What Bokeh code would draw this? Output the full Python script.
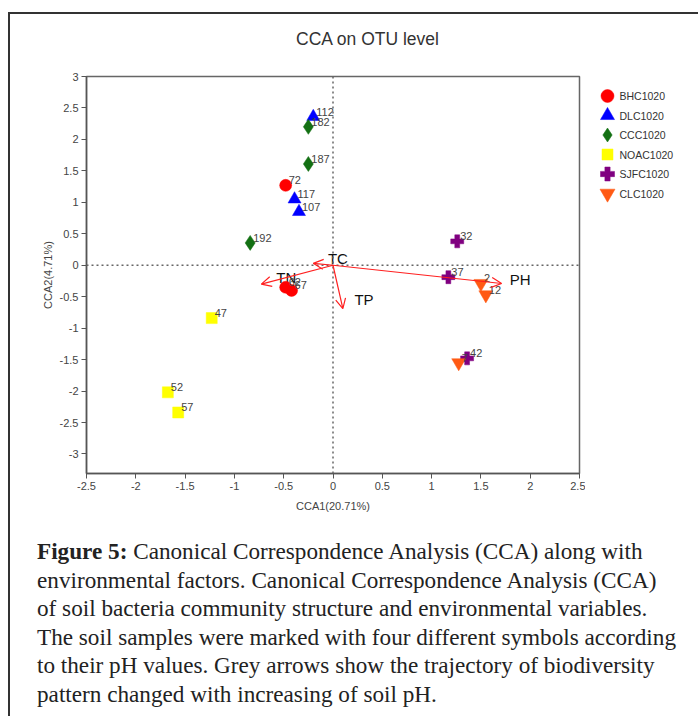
from bokeh.plotting import figure
from bokeh.models import (Range1d, FixedTicker, Arrow, OpenHead, ColumnDataSource,
                          Span, Div)
from bokeh.layouts import column, row
from bokeh.core.properties import value
from bokeh.embed import file_html
from bokeh.resources import INLINE

# ---------------- data ----------------
title_text = "CCA on OTU level"
x_label = "CCA1(20.71%)"
y_label = "CCA2(4.71%)"

x_ticks = [-2.5, -2.0, -1.5, -1.0, -0.5, 0.0, 0.5, 1.0, 1.5, 2.0, 2.5]
x_tick_labels = ["-2.5", "-2", "-1.5", "-1", "-0.5", "0", "0.5", "1", "1.5", "2", "2.5"]
y_ticks = [-3.0, -2.5, -2.0, -1.5, -1.0, -0.5, 0.0, 0.5, 1.0, 1.5, 2.0, 2.5, 3.0]
y_tick_labels = ["-3", "-2.5", "-2", "-1.5", "-1", "-0.5", "0", "0.5", "1", "1.5", "2", "2.5", "3"]

groups = ["BHC1020", "DLC1020", "CCC1020", "NOAC1020", "SJFC1020", "CLC1020"]

bhc_x = [-0.48, -0.48, -0.42]
bhc_y = [1.27, -0.35, -0.40]
bhc_lab = ["72", "62", "67"]

dlc_x = [-0.20, -0.39, -0.345]
dlc_y = [2.36, 1.05, 0.85]
dlc_lab = ["112", "117", "107"]

ccc_x = [-0.25, -0.25, -0.84]
ccc_y = [2.20, 1.61, 0.355]
ccc_lab = ["182", "187", "192"]

noac_x = [-1.23, -1.675, -1.57]
noac_y = [-0.84, -2.02, -2.34]
noac_lab = ["47", "52", "57"]

sjfc_x = [1.26, 1.17, 1.36]
sjfc_y = [0.38, -0.19, -1.48]
sjfc_lab = ["32", "37", "42"]

clc_x = [1.50, 1.55, 1.275]
clc_y = [-0.29, -0.47, -1.55]
clc_lab = ["2", "12", "7"]

env_names = ["TC", "TN", "TP", "PH"]
env_x = [-0.20, -0.727, 0.10, 1.71]
env_y = [0.03, -0.30, -0.69, -0.29]
env_label_x = [0.05, -0.473, 0.314, 1.898]
env_label_y = [0.10, -0.20, -0.546, -0.228]

caption_lines = [
    "<b>Figure 5:</b> Canonical Correspondence Analysis (CCA) along with",
    "environmental factors. Canonical Correspondence Analysis (CCA)",
    "of soil bacteria community structure and environmental variables.",
    "The soil samples were marked with four different symbols according",
    "to their pH values. Grey arrows show the trajectory of biodiversity",
    "pattern changed with increasing of soil pH.",
]

# ---------------- styles ----------------
SANS = "Liberation Sans"
series = [
    (groups[0], bhc_x, bhc_y, bhc_lab, "circle", "#ff0000", 12, 13),
    (groups[1], dlc_x, dlc_y, dlc_lab, "triangle", "#0000ff", 13, 14),
    (groups[2], ccc_x, ccc_y, ccc_lab, "diamond", "#137013", 15, 14),
    (groups[3], noac_x, noac_y, noac_lab, "square", "#ffff00", 11, 11),
    (groups[4], sjfc_x, sjfc_y, sjfc_lab, "plus", "#800080", 13, 14),
    (groups[5], clc_x, clc_y, clc_lab, "inverted_triangle", "#ff5a14", 14, 15),
]

B_LEFT, B_RIGHT, B_TOP, B_BOTTOM = 76, 6, 10, 47
FRAME_W, FRAME_H = 493, 397
TOTAL_W = 688

# title as its own text block above the plot
title_div = Div(text=("<div style=\"font-family:'Liberation Sans',sans-serif;font-size:17.5px;"
                      "line-height:21px;color:#333;white-space:nowrap;"
                      "padding:15px 0 0 286px;\">" + title_text + "</div>"),
                width=TOTAL_W, height=52, margin=0)

p = figure(frame_width=FRAME_W, frame_height=FRAME_H,
           x_range=Range1d(-2.5, 2.5), y_range=Range1d(-3.31, 3.0),
           output_backend="svg", toolbar_location=None, title=None,
           min_border_left=B_LEFT, min_border_right=B_RIGHT,
           min_border_top=B_TOP, min_border_bottom=B_BOTTOM)

p.grid.visible = False
p.outline_line_color = "#666666"
p.outline_line_width = 1.5

for ax, ticks, labs, lab, stand in ((p.xaxis[0], x_ticks, x_tick_labels, x_label, 7),
                                    (p.yaxis[0], y_ticks, y_tick_labels, y_label, 3)):
    ax.ticker = FixedTicker(ticks=ticks)
    ax.major_label_overrides = {t: s for t, s in zip(ticks, labs)}
    ax.axis_label = lab
    ax.axis_label_text_font = SANS
    ax.axis_label_text_font_style = "normal"
    ax.axis_label_text_font_size = "11px"
    ax.axis_label_text_color = "#444444"
    ax.major_label_text_font = SANS
    ax.major_label_text_font_size = "11px"
    ax.major_label_text_color = "#444444"
    ax.axis_line_color = "#555555"
    ax.axis_line_width = 1.5
    ax.major_tick_line_color = "#555555"
    ax.major_tick_out = 5
    ax.major_tick_in = 0
    ax.minor_tick_line_color = None
    ax.major_label_standoff = 3
    ax.axis_label_standoff = stand

# dotted zero lines
p.add_layout(Span(location=0, dimension="width", line_color="#666666",
                  line_dash="2 3", line_width=1.5))
p.add_layout(Span(location=0, dimension="height", line_color="#666666",
                  line_dash="2 3", line_width=1.5))

# environmental arrows
arrow_src = ColumnDataSource(dict(x0=[0.0] * len(env_x), y0=[0.0] * len(env_y),
                                  x1=env_x, y1=env_y))
p.add_layout(Arrow(end=OpenHead(size=10, line_color="#ff2020", line_width=1.2),
                   x_start="x0", y_start="y0", x_end="x1", y_end="y1",
                   source=arrow_src, line_color="#ff2020", line_width=1.2))
p.text(x=env_label_x, y=env_label_y, text=env_names,
       text_font=value(SANS), text_font_size="15px", text_color="#111111",
       text_align="center", text_baseline="middle")

for name, xs, ys, labs, marker, color, size, _ in series:
    p.scatter(xs, ys, marker=marker, size=size, fill_color=color,
              line_color=color, line_width=0.5)
    p.text(x=xs, y=ys, text=labs, x_offset=3, y_offset=-5,
           text_font=value(SANS), text_font_size="11px", text_color="#444444",
           text_align="left", text_baseline="alphabetic")

# ---------------- legend panel (own small figure, frame aligned with the plot) ----------------
LEG_W = TOTAL_W - (B_LEFT + FRAME_W + B_RIGHT)
leg = figure(frame_width=LEG_W, frame_height=FRAME_H, title=None,
             x_range=Range1d(0, LEG_W), y_range=Range1d(FRAME_H, 0),
             output_backend="svg", toolbar_location=None,
             x_axis_location=None, y_axis_location=None, min_border=0)
leg.grid.visible = False
leg.outline_line_color = None
LEG_X0, LEG_Y0, LEG_DY = 22, 19.5, 19.5
for i, (name, xs, ys, labs, marker, color, _, lsize) in enumerate(series):
    yy = LEG_Y0 + i * LEG_DY
    leg.scatter([LEG_X0], [yy], marker=marker, size=lsize, fill_color=color,
                line_color=color, line_width=0.5)
    leg.text(x=[LEG_X0 + 12], y=[yy], text=[name],
             text_font=value(SANS), text_font_size="10.5px", text_color="#333333",
             text_align="left", text_baseline="middle")

cap = Div(text=("<div style=\"font-family:'Liberation Serif',serif;font-size:23.2px;"
                "line-height:28.6px;color:#222;white-space:nowrap;"
                "padding:17px 0 0 27px;\">" + "<br>".join(caption_lines) + "</div>"),
          width=TOTAL_W, height=196, margin=0)

layout = column(title_div, row(p, leg), cap, margin=(12, 0, 0, 8),
                styles={"border-left": "2px solid #333", "border-top": "2px solid #333"})

open("out.html", "w").write(file_html(layout, INLINE))
